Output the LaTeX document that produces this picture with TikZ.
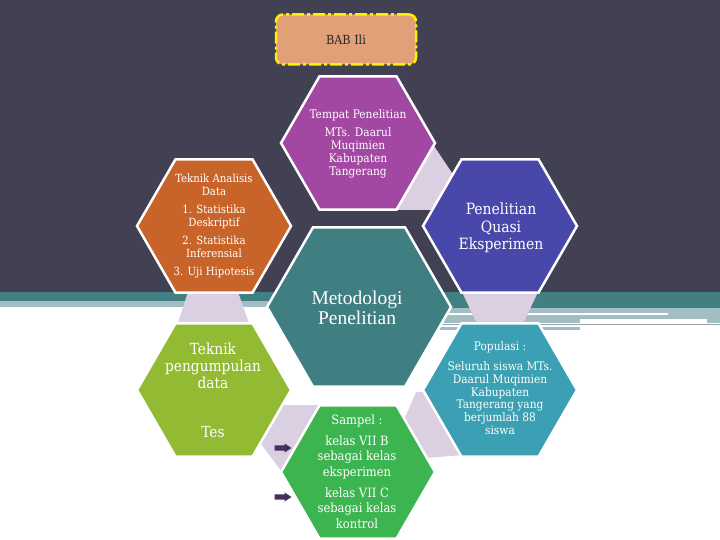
\documentclass[tikz,border=0pt]{standalone}
\usepackage{fontspec}
\setmainfont{DejaVu Serif Condensed}
\newfontfamily\metofont{Liberation Serif}
\definecolor{bgdark}{RGB}{65,65,83}
\definecolor{bandteal}{RGB}{64,127,130}
\definecolor{bandlight}{RGB}{162,190,196}
\definecolor{bandgray}{RGB}{150,165,170}
\definecolor{hpurple}{RGB}{162,72,162}
\definecolor{horange}{RGB}{200,100,42}
\definecolor{hblue}{RGB}{72,72,170}
\definecolor{hteal}{RGB}{63,127,130}
\definecolor{hlgreen}{RGB}{146,186,50}
\definecolor{hgreen}{RGB}{60,180,80}
\definecolor{hcyan}{RGB}{59,160,179}
\definecolor{lav}{RGB}{218,208,226}
\definecolor{titlefill}{RGB}{225,160,120}
\definecolor{titleborder}{RGB}{255,240,0}
\definecolor{arrowc}{RGB}{72,46,92}
\newcommand\hexag[4]{%
  \filldraw[fill=#4, draw=white, line width=2.5pt, line join=miter]
  ({#1+#3},#2) -- ({#1+#3/2},{#2+0.866*#3}) -- ({#1-#3/2},{#2+0.866*#3})
  -- ({#1-#3},#2) -- ({#1-#3/2},{#2-0.866*#3}) -- ({#1+#3/2},{#2-0.866*#3}) -- cycle;}
\newcommand\blockarrow[1]{%
  \fill[arrowc, shift={(#1)}] (-8.5,-2.6) -- (1.5,-2.6) -- (1.5,-4.6) -- (8.5,0)
  -- (1.5,4.6) -- (1.5,2.6) -- (-8.5,2.6) -- cycle;}
\begin{document}
\begin{tikzpicture}[x=1pt,y=-1pt,
  txt/.style={text=white, align=center, inner sep=0pt},
  conn/.style={fill=lav, draw=none}]
\useasboundingbox (0,0) rectangle (720,540);
% background
\fill[white] (0,0) rectangle (720,540);
\fill[bgdark] (0,0) rectangle (720,292);
% bands left
\fill[bandteal] (0,292) rectangle (360,301);
\fill[bandlight] (0,301) rectangle (360,307);
% bands right
\fill[bandteal] (360,292) rectangle (720,308);
\fill[bandlight] (420,308) rectangle (720,319);
\fill[white] (420,313) rectangle (668,315);
\fill[bandlight] (420,319) rectangle (720,323);
\fill[white] (580,319) rectangle (707,323);
\fill[bandgray] (420,323.5) rectangle (720,324.5);
\fill[bandlight] (420,327) rectangle (580,330);
% connectors
\fill[conn] (430,140) -- (458,182) -- (440,210) -- (395,210) -- cycle;
\fill[conn] (188,292) -- (238,292) -- (250,326) -- (177,326) -- cycle;
\fill[conn] (462,292) -- (538,292) -- (522,326) -- (478,326) -- cycle;
\fill[conn] (270,405) -- (325,405) -- (282,472) -- (258,440) -- cycle;
\fill[conn] (416,392) -- (440,392) -- (465,455) -- (425,458) -- (404,420) -- cycle;
% hexagons
\hexag{358}{143}{77}{hpurple}
\hexag{214}{226}{77}{horange}
\hexag{500}{226}{77}{hblue}
\hexag{359}{307}{92}{hteal}
\hexag{214}{390}{77}{hlgreen}
\hexag{500}{390}{77}{hcyan}
\hexag{358}{472}{77}{hgreen}
% title
\node[draw=titleborder, fill=titlefill, rounded corners=7pt, line width=2.5pt,
  dash pattern=on 12pt off 3pt on 3pt off 3pt, minimum width=140pt, minimum height=50pt,
  font=\fontsize{12.5}{14}\selectfont, text=black!85] (title) at (346,39.5) {BAB Ili};
% texts
\node[txt, font=\fontsize{11.8}{13}\selectfont] (tP) at (358,144)
  {Tempat Penelitian\\[5pt]MTs. Daarul\\Muqimien\\Kabupaten\\Tangerang};
\node[txt, font=\fontsize{11.3}{12.5}\selectfont] (tO) at (214,226)
  {Teknik Analisis\\Data\\[6pt]1. Statistika\\Deskriptif\\[6pt]2. Statistika\\Inferensial\\[6pt]3. Uji Hipotesis};
\node[txt, font=\fontsize{15.5}{17.5}\selectfont] (tB) at (501,228)
  {Penelitian\\Quasi\\Eksperimen};
\node[txt, font=\metofont\fontsize{19.5}{20}\selectfont] (tM) at (357,308)
  {Metodologi\\Penelitian};
\node[txt, font=\fontsize{15.3}{17}\selectfont] (tG) at (213,366)
  {Teknik\\pengumpulan\\data};
\node[txt, font=\fontsize{15.3}{17}\selectfont] (tTes) at (213,432) {Tes};
\node[txt, font=\fontsize{12.8}{15.5}\selectfont] (tS0) at (357,421) {Sampel :};
\node[txt, font=\fontsize{12.8}{15.5}\selectfont] (tS1) at (357,457)
  {kelas VII B\\sebagai kelas\\eksperimen};
\node[txt, font=\fontsize{12.8}{15.5}\selectfont] (tS2) at (357,508)
  {kelas VII C\\sebagai kelas\\kontrol};
\node[txt, font=\fontsize{11.8}{12.8}\selectfont] (tC0) at (500,347) {Populasi :};
\node[txt, font=\fontsize{11.8}{12.8}\selectfont] (tC1) at (500,398)
  {Seluruh siswa MTs.\\Daarul Muqimien\\Kabupaten\\Tangerang yang\\berjumlah 88\\siswa};
% arrows
\coordinate (a1) at (283,448);
\coordinate (a2) at (283,497);
\blockarrow{a1}
\blockarrow{a2}
\end{tikzpicture}
\end{document}
